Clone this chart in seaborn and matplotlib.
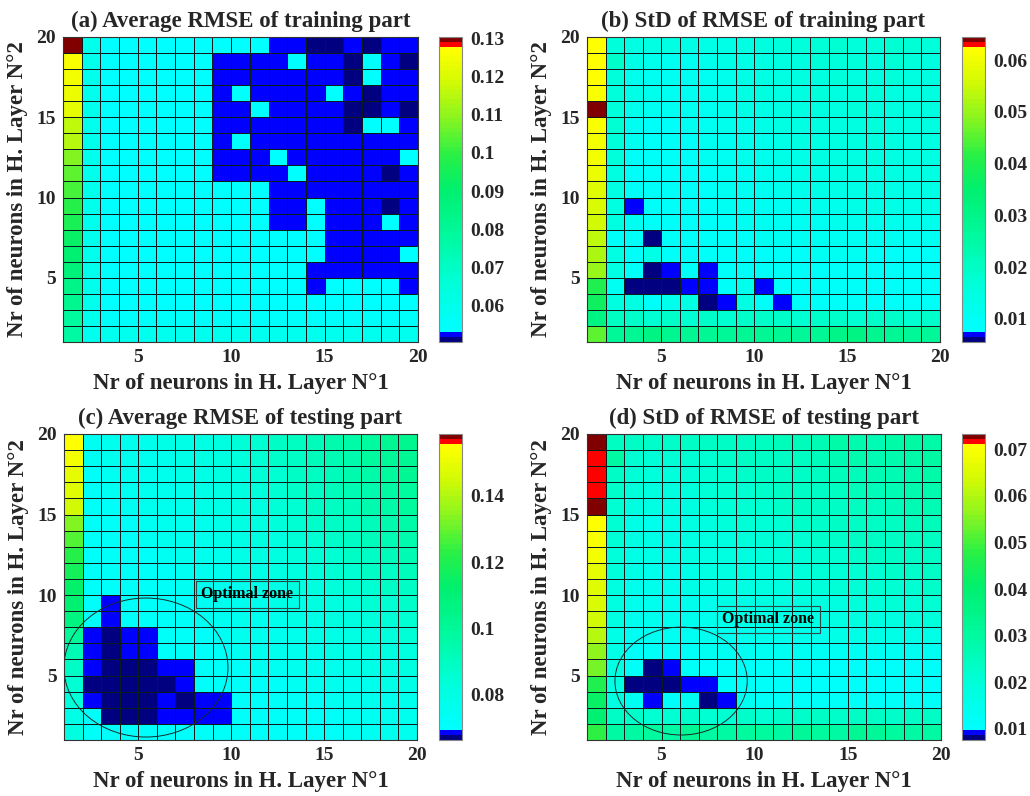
import numpy as np
import matplotlib
matplotlib.use("Agg")
import matplotlib.pyplot as plt
import seaborn as sns
from matplotlib.colors import ListedColormap, LinearSegmentedColormap
from matplotlib.patches import Ellipse

# ---------------- data (values x 1e-3), rows top (N2=19) -> bottom (N2=1), cols N1=1..19
avg_train = [
    [130, 60, 54, 54, 54, 54, 54, 54, 54, 54, 54, 52, 52, 51, 51, 52, 51, 52, 52],
    [126.5, 60, 54, 54, 54, 54, 54, 54, 52, 52, 52, 52, 54, 52, 52, 51, 54, 52, 51],
    [124.3, 60, 54, 54, 54, 54, 54, 54, 52, 52, 52, 52, 52, 52, 52, 51, 54, 52, 52],
    [123.5, 60, 54, 54, 54, 54, 54, 54, 52, 54, 52, 52, 52, 52, 54, 52, 51, 52, 52],
    [122, 60, 54, 54, 54, 54, 54, 54, 52, 52, 54, 52, 52, 52, 52, 51, 51, 52, 51],
    [116.7, 60, 54, 54, 54, 54, 54, 54, 52, 52, 52, 52, 52, 52, 52, 51, 54, 54, 52],
    [114.7, 60, 54, 54, 54, 54, 54, 54, 52, 54, 52, 52, 52, 52, 52, 52, 52, 52, 52],
    [108, 60, 54, 54, 54, 54, 54, 54, 52, 52, 52, 54, 52, 52, 52, 52, 52, 52, 54],
    [104.8, 60, 54, 54, 54, 54, 54, 54, 52, 52, 52, 52, 54, 52, 52, 52, 52, 51, 52],
    [102.2, 60, 54, 54, 54, 54, 54, 54, 54, 54, 54, 52, 52, 52, 52, 52, 52, 52, 52],
    [98, 60, 54, 54, 54, 54, 54, 54, 54, 54, 54, 52, 52, 54, 52, 52, 52, 51, 52],
    [95.5, 60, 54, 54, 54, 54, 54, 54, 54, 54, 54, 52, 52, 54, 52, 52, 52, 54, 52],
    [92.5, 60, 54, 54, 54, 54, 54, 54, 54, 54, 54, 54, 54, 54, 52, 52, 52, 52, 52],
    [90, 60, 54, 54, 54, 54, 54, 54, 54, 54, 54, 54, 54, 54, 52, 52, 52, 52, 54],
    [86.9, 60, 54, 54, 54, 54, 54, 54, 54, 54, 54, 54, 54, 52, 52, 52, 52, 52, 52],
    [84, 60, 54, 54, 54, 54, 54, 54, 54, 54, 54, 54, 54, 52, 54, 54, 54, 54, 52],
    [82.7, 60, 54, 54, 54, 54, 54, 54, 54, 54, 54, 54, 54, 54, 54, 54, 54, 54, 54],
    [78.9, 60, 55, 55, 55, 55, 55, 55, 55, 55, 55, 55, 55, 55, 55, 55, 55, 55, 55],
    [77, 59, 58, 58, 58, 58, 58, 58, 58, 58, 58, 58, 58, 58, 58, 58, 58, 58, 58],
]

std_train = [
    [62, 16, 14, 14, 14, 13, 13, 13, 14, 15, 16, 16, 17, 18, 16, 16, 18, 17, 16],
    [62, 19, 13, 12, 11, 11, 12, 13, 13, 14, 15, 15, 17, 16, 16, 15, 17, 16, 15],
    [62, 16, 12, 11, 11, 11, 11, 12, 13, 14, 14, 15, 15, 16, 15, 15, 16, 15, 15],
    [61.5, 16, 13, 12, 11, 11, 12, 12, 14, 15, 14, 15, 16, 15, 16, 16, 15, 15, 15],
    [64, 16, 12, 11, 11, 11, 11, 12, 13, 13, 14, 14, 15, 15, 16, 15, 15, 15, 15],
    [61, 18, 11, 10, 10, 11, 11, 12, 12, 13, 14, 14, 15, 15, 15, 16, 15, 15, 15],
    [60.5, 16, 11, 10, 10, 10, 11, 11, 12, 12, 13, 14, 14, 15, 15, 15, 15, 14, 14],
    [60, 16, 10, 10, 10, 10, 11, 11, 12, 12, 13, 13, 14, 14, 14, 15, 14, 14, 14],
    [59, 15, 10, 10, 10, 10, 10, 11, 11, 12, 12, 13, 13, 14, 14, 14, 14, 14, 14],
    [58, 14, 10, 10, 10, 10, 10, 11, 11, 11, 12, 12, 13, 13, 13, 13, 13, 13, 13],
    [57, 15, 6.9, 10, 10, 10, 10, 11, 11, 11, 11, 12, 12, 12, 13, 13, 13, 13, 13],
    [56, 15, 11, 10, 10, 10, 10, 10, 11, 11, 11, 11, 11, 12, 12, 12, 12, 12, 12],
    [54.3, 10, 10, 6.0, 10, 10, 10, 10, 10, 11, 11, 11, 11, 11, 11, 11, 11, 11, 11],
    [51.6, 14, 10, 13, 10, 10, 10, 10, 10, 10, 10, 10, 11, 11, 11, 10, 10, 10, 10],
    [50, 14, 10, 6.0, 6.9, 10, 6.9, 10, 10, 10, 10, 10, 10, 10, 10, 10, 10, 9.5, 9.5],
    [40.5, 11, 6.0, 6.0, 6.0, 6.9, 6.9, 10, 12, 6.9, 10, 10, 10, 9.5, 9.5, 9.5, 9.5, 9.5, 9.5],
    [37.5, 15, 14, 10, 12, 14, 6.0, 6.9, 14, 10, 6.9, 10, 10, 9.5, 9.5, 9.5, 9.5, 9.5, 9.5],
    [31, 21, 19, 18, 19, 18, 19, 18, 19, 19, 19, 18, 19, 19, 18, 19, 19, 18, 19],
    [46, 27, 28, 31, 29, 28, 28, 27, 28, 28, 28, 27, 28, 30, 31, 29, 28, 27, 27],
]

avg_test = [
    [155.5, 74, 75, 76, 77, 78, 79, 80, 82, 84, 86, 88, 90, 92, 94, 96, 99, 101, 103],
    [151.5, 74, 75, 75, 76, 77, 78, 80, 81, 83, 85, 87, 89, 91, 93, 95, 98, 100, 102],
    [149.8, 73, 74, 75, 76, 77, 78, 79, 81, 82, 84, 86, 88, 90, 92, 94, 96, 99, 101],
    [148, 73, 74, 74, 75, 76, 77, 79, 80, 82, 83, 85, 87, 89, 91, 93, 95, 97, 99],
    [144.6, 72, 73, 74, 75, 76, 77, 78, 79, 81, 82, 84, 86, 88, 90, 92, 94, 96, 98],
    [133.3, 72, 73, 73, 74, 75, 76, 77, 79, 80, 82, 83, 85, 87, 89, 90, 92, 94, 96],
    [127.2, 72, 72, 73, 74, 75, 76, 77, 78, 79, 81, 82, 84, 85, 87, 89, 91, 93, 95],
    [122, 71, 72, 72, 73, 74, 75, 76, 77, 79, 80, 81, 83, 84, 86, 88, 89, 91, 93],
    [116.8, 71, 72, 72, 73, 73, 74, 75, 76, 78, 79, 80, 82, 83, 85, 86, 88, 89, 91],
    [113.3, 71, 71, 72, 72, 73, 74, 75, 76, 77, 78, 79, 81, 82, 83, 85, 86, 88, 89],
    [111.6, 71, 68.3, 72, 72, 73, 73, 74, 75, 76, 77, 78, 79, 81, 82, 83, 85, 86, 87],
    [107.3, 71, 68.3, 71, 72, 72, 73, 74, 74, 75, 76, 77, 78, 79, 81, 82, 83, 84, 86],
    [100.3, 68.3, 66.9, 68.3, 68.3, 72, 72, 73, 74, 75, 75, 76, 77, 78, 79, 80, 81, 83, 84],
    [92.5, 68.3, 66.9, 68.3, 68.3, 71, 72, 72, 73, 74, 75, 75, 76, 77, 78, 79, 80, 81, 82],
    [88.2, 68.3, 66.9, 66.9, 66.9, 68.3, 68.3, 72, 72, 73, 74, 74, 75, 76, 77, 78, 79, 80, 81],
    [85.6, 66.9, 66.9, 66.9, 66.9, 66.9, 68.3, 71, 72, 72, 73, 73, 74, 75, 75, 76, 77, 78, 79],
    [82.9, 68.3, 66.9, 66.9, 66.9, 68.3, 66.9, 68.3, 68.3, 71, 72, 72, 73, 73, 74, 75, 75, 76, 77],
    [77.8, 71, 66.9, 66.9, 66.9, 68.3, 68.3, 68.3, 68.3, 71, 71, 72, 72, 73, 73, 74, 74, 75, 76],
    [81.2, 72, 71, 71, 71, 71, 71, 72, 72, 72, 72, 72, 73, 73, 73, 74, 74, 75, 75],
]

std_test = [
    [72.8, 25, 23, 22, 22, 23, 23, 24, 24, 25, 26, 26, 27, 29, 28, 27, 29, 30, 29],
    [71.8, 30, 21, 20, 20, 21, 21, 22, 23, 24, 24, 25, 26, 27, 28, 27, 28, 29, 30],
    [71.8, 23, 20, 19, 19, 20, 21, 21, 22, 23, 23, 24, 25, 26, 26, 27, 27, 28, 29],
    [71.8, 22, 19, 18, 18, 19, 20, 21, 21, 22, 23, 23, 24, 25, 26, 26, 27, 28, 28],
    [72.8, 21, 18, 17, 17, 18, 19, 20, 21, 21, 22, 23, 23, 24, 25, 25, 26, 27, 27],
    [70.6, 21, 16, 15, 16, 17, 18, 19, 20, 20, 21, 22, 22, 23, 24, 24, 25, 26, 26],
    [70, 20, 17, 16, 16, 17, 18, 18, 19, 20, 20, 21, 22, 22, 23, 23, 24, 25, 25],
    [68.8, 19, 16, 16, 16, 17, 17, 18, 18, 19, 20, 20, 21, 21, 22, 23, 23, 24, 24],
    [66.9, 19, 16, 15, 15, 16, 17, 17, 18, 18, 19, 19, 20, 20, 21, 21, 22, 22, 23],
    [65.7, 18, 15, 15, 15, 16, 16, 17, 17, 18, 18, 19, 19, 20, 20, 21, 21, 21, 22],
    [64.5, 18, 15, 14, 14, 15, 15, 16, 16, 17, 17, 18, 18, 18, 19, 19, 20, 20, 21],
    [63.2, 17, 14, 14, 14, 14, 15, 15, 16, 16, 16, 17, 17, 17, 18, 18, 18, 19, 19],
    [60.8, 16, 13, 13, 13, 13, 14, 14, 15, 15, 15, 15, 15, 16, 16, 16, 16, 16, 16],
    [56.5, 16, 12, 12, 12, 12, 13, 13, 13, 13, 13, 13, 13, 13, 13, 13, 13, 13, 13],
    [54, 17, 12, 8.1, 9.1, 12, 12, 12, 12, 12, 12, 12, 11, 11, 11, 11, 11, 11, 11],
    [46, 17, 8.1, 8.1, 8.1, 9.1, 9.1, 12, 12, 12, 11, 11, 11, 11, 11, 11, 11, 11, 11],
    [42.3, 18, 13, 9.1, 12, 13, 8.1, 9.1, 13, 12, 12, 12, 12, 12, 12, 12, 12, 12, 12],
    [40.4, 23, 22, 21, 21, 22, 21, 21, 22, 21, 22, 22, 23, 22, 23, 23, 22, 23, 23],
    [48.4, 30, 30, 31, 30, 33, 30, 30, 31, 31, 30, 32, 31, 30, 33, 32, 31, 30, 30],
]

titles = ["(a) Average RMSE of training part", "(b) StD of RMSE of training part",
          "(c) Average RMSE of testing part", "(d) StD of RMSE of testing part"]
color_limits = [(0.0503, 0.1305), (0.0055, 0.0645), (0.0662, 0.1587), (0.0076, 0.0733)]
cbar_ticks = [[0.06, 0.07, 0.08, 0.09, 0.1, 0.11, 0.12, 0.13],
              [0.01, 0.02, 0.03, 0.04, 0.05, 0.06],
              [0.08, 0.1, 0.12, 0.14],
              [0.01, 0.02, 0.03, 0.04, 0.05, 0.06, 0.07]]
axis_ticks = [5, 10, 15, 20]
xlabel = "Nr of neurons in H. Layer N\u00b01"
ylabel = "Nr of neurons in H. Layer N\u00b02"
zone_label = "Optimal zone"

# ---------------- style
sns.set_theme(style="white")
plt.rcParams['font.family'] = ['Liberation Serif', 'DejaVu Serif']
plt.rcParams['font.weight'] = 'bold'
plt.rcParams['axes.labelweight'] = 'bold'
plt.rcParams['axes.titleweight'] = 'bold'

anchors = [(0.0, (0, 255, 255)), (0.17, (0, 255, 215)), (0.33, (0, 250, 160)),
           (0.5, (0, 240, 110)), (0.62, (40, 240, 70)), (0.76, (140, 245, 30)),
           (0.88, (210, 250, 5)), (1.0, (255, 255, 0))]
grad = LinearSegmentedColormap.from_list(
    'grad', [(t, tuple(c / 255 for c in rgb)) for t, rgb in anchors])
colors = [(0, 0, 0.5), (0, 0, 1)] + [grad(i / 59) for i in range(60)] + [(1, 0, 0), (0.5, 0, 0)]
cmap = ListedColormap(colors)

fig = plt.figure(figsize=(10.3, 7.96), dpi=100)

W, H = 1030, 796
layout = [  # axes (left, top, right, bottom) px, colorbar left px
    ((63, 37, 418, 342), 439),
    ((587, 37, 940, 342), 962),
    ((64, 434, 417, 740), 439),
    ((587, 434, 941, 740), 962),
]

zones = {2: ((4.41, 14.5), 8.83, 8.63, (9.87, 9.95)),
         3: ((5.05, 15.34), 7.1, 6.7, (9.74, 11.5))}

datasets = [avg_train, std_train, avg_test, std_test]

for i, (vals, (box, cx)) in enumerate(zip(datasets, layout)):
    l, t, r, b = box
    ax = fig.add_axes([l / W, 1 - b / H, (r - l) / W, (b - t) / H])
    cax = fig.add_axes([cx / W, 1 - b / H, 23 / W, (b - t) / H])
    data = np.array(vals, dtype=float) / 1000.0
    vmin, vmax = color_limits[i]
    sns.heatmap(data, ax=ax, cbar_ax=cax, cmap=cmap, vmin=vmin, vmax=vmax,
                linewidths=0.7, linecolor='#0d1a1a', xticklabels=False, yticklabels=False)
    ax.set_xticks([v - 1 for v in axis_ticks])
    ax.set_xticklabels([str(v) for v in axis_ticks], rotation=0, fontsize=14, fontweight='bold')
    ax.set_yticks([20 - v for v in axis_ticks])
    ax.set_yticklabels([str(v) for v in axis_ticks], rotation=0, fontsize=14, fontweight='bold')
    ax.tick_params(axis='both', direction='in', length=4, width=0.6, color='black', pad=5)
    for s in ax.spines.values():
        s.set_visible(True)
        s.set_color('#333333')
        s.set_linewidth(0.8)
    ax.set_title(titles[i], fontsize=16.5, fontweight='bold', pad=7)
    ax.set_xlabel(xlabel, fontsize=16.5, fontweight='bold', labelpad=5)
    ax.set_ylabel(ylabel, fontsize=16.5, fontweight='bold', labelpad=6)

    cb = ax.collections[0].colorbar
    cb.set_ticks(cbar_ticks[i])
    cb.set_ticklabels(['%g' % v for v in cbar_ticks[i]])
    cb.outline.set_edgecolor('#888888')
    cb.outline.set_linewidth(0.8)
    cax.tick_params(axis='y', direction='in', length=4, width=0.6, labelsize=14, pad=6,
                    right=True, left=False, color='#333333')
    for lab in cax.get_yticklabels():
        lab.set_fontweight('bold')

    if i in zones:
        center, w, h, tpos = zones[i]
        ax.add_patch(Ellipse(center, w, h, fill=False, edgecolor='#1a2a2a', linewidth=0.7))
        ax.text(tpos[0], tpos[1], zone_label, fontsize=11.5, fontweight='bold',
                ha='center', va='center', color='black',
                bbox=dict(boxstyle='square,pad=0.35', facecolor='none',
                          edgecolor='#2a4a4a', linewidth=0.8))

fig.savefig('out.png', dpi=100)
